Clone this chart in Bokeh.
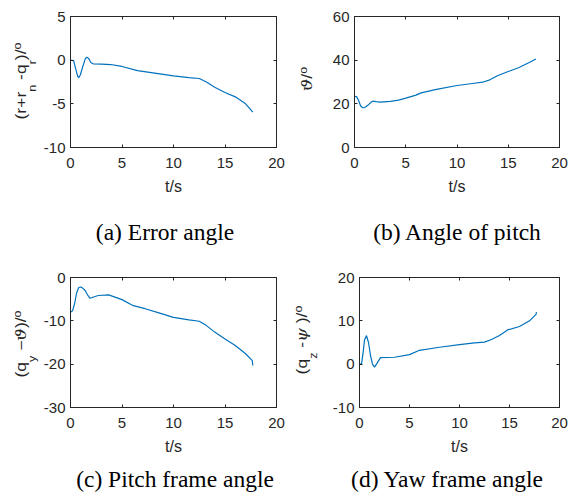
from bokeh.plotting import figure
from bokeh.models import Range1d, LinearAxis, FixedTicker, Div
from bokeh.layouts import row, column
from bokeh.embed import file_html
from bokeh.resources import INLINE

# ---------------- data ----------------
x_ticks = [0, 5, 10, 15, 20]

t_a = [0, 0.3, 0.55, 0.7, 0.8, 0.95, 1.2, 1.45, 1.6, 1.75, 2.0, 2.2, 3.0, 3.9, 5.0, 6.5, 8.0,
       10.0, 11.5, 12.5, 13.2, 14.0, 15.0, 16.0, 17.0, 17.7]
err_a = [0, -0.05, -1.2, -1.85, -2.0, -1.7, -0.7, 0.2, 0.35, 0.2, -0.3, -0.42, -0.45, -0.5,
         -0.72, -1.2, -1.45, -1.8, -2.0, -2.1, -2.5, -3.1, -3.7, -4.2, -5.0, -5.95]
yticks_a = [-10, -5, 0, 5]

t_b = [0, 0.2, 0.4, 0.6, 0.8, 1.0, 1.3, 1.6, 1.8, 2.1, 2.5, 3.5, 4.3, 5.0, 6.0, 6.5, 8.0,
       10.0, 11.5, 12.5, 13.2, 14.0, 15.0, 16.0, 17.0, 17.7]
pitch_b = [23.4, 23.3, 21.5, 19.0, 18.2, 18.3, 19.3, 20.7, 21.2, 21.0, 20.8, 21.1, 21.7, 22.6,
           24.0, 25.0, 26.6, 28.4, 29.3, 29.9, 31.0, 33.0, 34.8, 36.5, 38.8, 40.5]
yticks_b = [0, 20, 40, 60]

t_c = [0, 0.2, 0.4, 0.6, 0.8, 1.0, 1.2, 1.42, 1.65, 1.9, 2.24, 2.7, 3.7, 5.0, 6.1, 7.25, 8.5,
       10.0, 11.5, 12.5, 13.2, 14.0, 15.0, 16.0, 17.0, 17.65, 17.7]
frame_c = [-8.0, -7.7, -6.0, -3.5, -2.3, -2.2, -2.5, -3.0, -4.0, -4.8, -4.5, -4.15, -4.0, -5.1,
           -6.5, -7.2, -8.1, -9.2, -9.8, -10.1, -11.1, -12.6, -14.2, -15.7, -17.6, -19.2, -20.3]
yticks_c = [-30, -20, -10, 0]

t_d = [0, 0.2, 0.35, 0.5, 0.7, 0.9, 1.1, 1.3, 1.5, 1.7, 2.1, 3.5, 5.0, 6.0, 8.0, 10.0, 11.5,
       12.5, 13.2, 14.0, 14.8, 16.0, 17.0, 17.65, 17.7]
yaw_d = [0.1, 0.0, 2.5, 5.5, 6.6, 5.0, 2.0, 0.0, -0.7, 0.0, 1.5, 1.6, 2.2, 3.2, 3.9, 4.5, 4.9,
         5.1, 5.7, 6.6, 7.9, 8.7, 10.0, 11.5, 12.0]
yticks_d = [-10, 0, 10, 20]

x_label = "t/s"
captions = ["(a) Error angle", "(b) Angle of pitch", "(c) Pitch frame angle", "(d) Yaw frame angle"]

SUB = '<span style="font-size:10px;line-height:0;position:relative;top:10px">{}</span>'
SUP = '<span style="font-size:10px;line-height:0;position:relative;top:-5.5px">{}</span>'
GRK = '<span style="font-family:\'DejaVu Serif\';font-style:italic">{}</span>'
ylabels = [
    "(r+r" + SUB.format("n") + " -q" + SUB.format("r") + ")/" + SUP.format("o"),
    GRK.format("\u03d1") + "/" + SUP.format("o"),
    "(q" + SUB.format("y") + " \u2212" + GRK.format("\u03d1") + ")/" + SUP.format("o"),
    "(q" + SUB.format("z") + " -" + GRK.format("\u03c8") + " )/" + SUP.format("o"),
]

# ---------------- styling ----------------
AX = "#262626"
LINE = "#0072BD"
SANS = "Liberation Sans"


def style_axis(ax, ticks, show_labels, standoff):
    ax.ticker = FixedTicker(ticks=ticks)
    ax.minor_tick_line_color = None
    ax.major_tick_in = 3
    ax.major_tick_out = 0
    ax.major_tick_line_color = AX
    ax.axis_line_color = AX
    ax.axis_line_width = 1
    if show_labels:
        ax.major_label_overrides = {v: str(v) for v in ticks}
        ax.major_label_text_font = SANS
        ax.major_label_text_font_size = "15px"
        ax.major_label_text_color = AX
        ax.major_label_standoff = standoff
    else:
        ax.major_label_text_font_size = "0px"
        ax.major_label_text_color = None
        ax.major_label_standoff = 0


def make_panel(t, y, yr, yticks, w, h, left, right, top, bottom):
    p = figure(width=w, height=h, x_range=Range1d(0, 20), y_range=Range1d(yr[0], yr[1]),
               output_backend="svg", toolbar_location=None,
               min_border_left=left, min_border_right=right,
               min_border_top=top, min_border_bottom=bottom,
               background_fill_color="white", border_fill_color="white",
               outline_line_color=AX)
    p.grid.visible = False
    p.line(t, y, line_color=LINE, line_width=1.2)
    style_axis(p.xaxis[0], x_ticks, True, 10)
    style_axis(p.yaxis[0], yticks, True, 5)
    p.xaxis[0].axis_label = x_label
    p.xaxis[0].axis_label_text_font = SANS
    p.xaxis[0].axis_label_text_font_size = "16px"
    p.xaxis[0].axis_label_text_font_style = "normal"
    p.xaxis[0].axis_label_text_color = AX
    p.xaxis[0].axis_label_standoff = 7
    top_ax = LinearAxis()
    style_axis(top_ax, x_ticks, False, 0)
    p.add_layout(top_ax, "above")
    right_ax = LinearAxis()
    style_axis(right_ax, yticks, False, 0)
    p.add_layout(right_ax, "right")
    return p


def ylabel_div(html, w, h, cx, cy):
    inner = (f'<div style="position:relative;width:{w}px;height:{h}px;">'
             f'<div style="position:absolute;left:{cx}px;top:{cy}px;'
             f'transform:translate(-50%,-50%) rotate(-90deg) scale(1.25,1);'
             f'white-space:nowrap;font-family:\'{SANS}\';font-size:14px;line-height:14px;'
             f'color:{AX};">{html}</div></div>')
    return Div(text=inner, width=w, height=h, margin=0)


def caption_div(text, w, h, cx, top):
    inner = (f'<div style="position:relative;width:{w}px;height:{h}px;">'
             f'<div style="position:absolute;left:{cx}px;top:{top}px;transform:translateX(-50%);'
             f'white-space:nowrap;font-family:\'Liberation Serif\';font-size:23.5px;'
             f'line-height:23.5px;color:black;">{text}</div></div>')
    return Div(text=inner, width=w, height=h, margin=0)


yr_a, yr_b, yr_c, yr_d = (-10, 5), (0, 60), (-30, 0), (-10, 20)
YW = 40  # width of y-label strip

pa = make_panel(t_a, err_a, yr_a, yticks_a, 289 - YW, 200, 30, 13, 16, 53)
pb = make_panel(t_b, pitch_b, yr_b, yticks_b, 290 - YW, 200, 24, 20, 16, 53)
pc = make_panel(t_c, frame_c, yr_c, yticks_c, 289 - YW, 210, 30, 13, 27, 53)
pd = make_panel(t_d, yaw_d, yr_d, yticks_d, 290 - YW, 210, 24, 20, 27, 53)

cell_a = column(row(ylabel_div(ylabels[0], YW, 200, 20.5, 80.5), pa),
                caption_div(captions[0], 289, 50, 165, 20.8))
cell_b = column(row(ylabel_div(ylabels[1], YW, 200, 18, 78.5), pb),
                caption_div(captions[1], 290, 50, 168, 20.8))
cell_c = column(row(ylabel_div(ylabels[2], YW, 210, 20.5, 94), pc),
                caption_div(captions[2], 289, 42, 175, 8.3))
cell_d = column(row(ylabel_div(ylabels[3], YW, 210, 12.5, 90), pd),
                caption_div(captions[3], 290, 42, 158, 8.3))

layout = column(row(cell_a, cell_b), row(cell_c, cell_d))

with open("out.html", "w") as f:
    f.write(file_html(layout, INLINE))
